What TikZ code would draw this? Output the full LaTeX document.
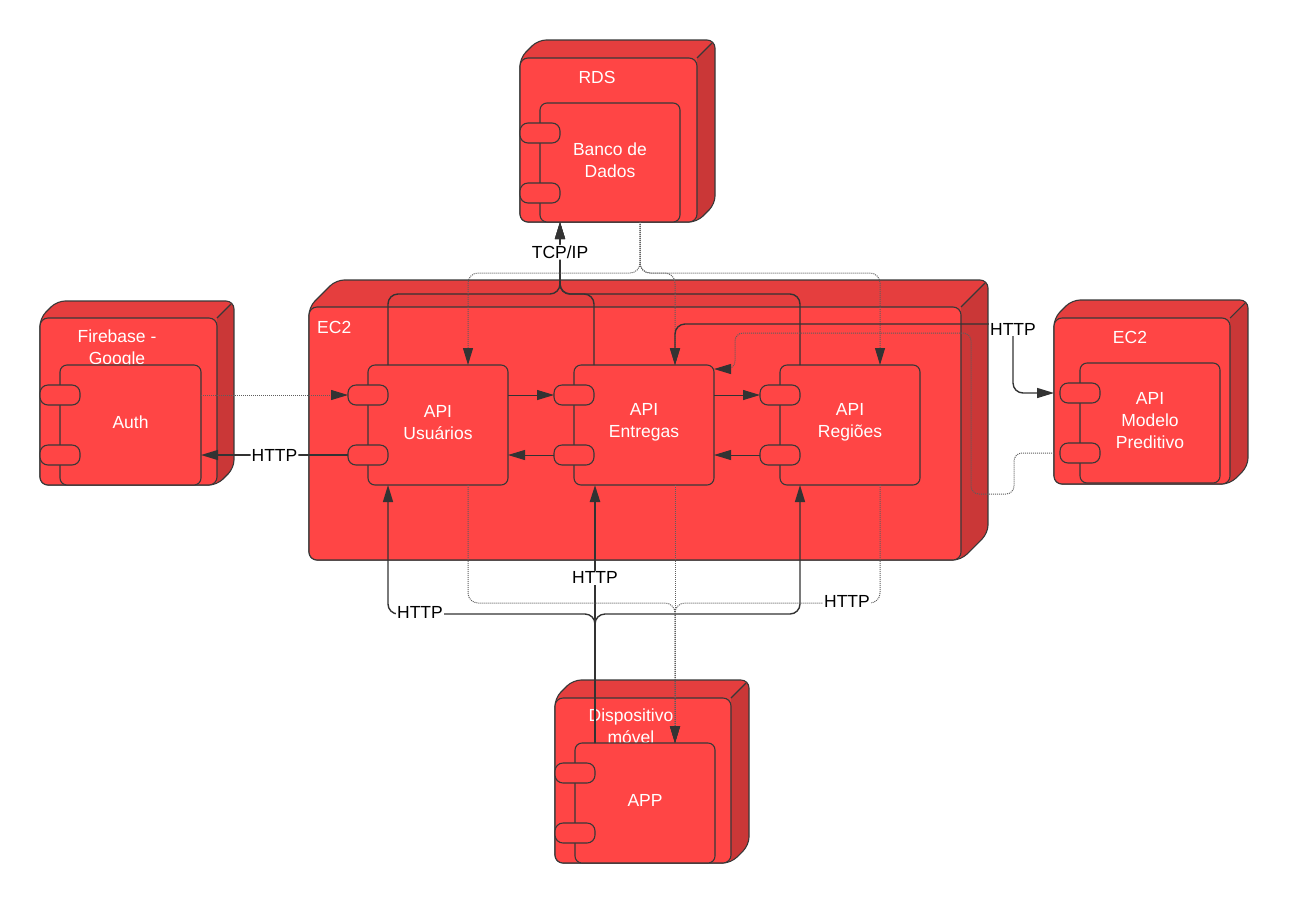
\documentclass[tikz,border=0pt]{standalone}
\usepackage{fontspec}
\setmainfont{Liberation Sans}
\usetikzlibrary{arrows.meta,calc}

\definecolor{frontred}{HTML}{FF4545}
\definecolor{topred}{HTML}{E53E3E}
\definecolor{sidered}{HTML}{CA3737}
\definecolor{bordr}{HTML}{383838}
\definecolor{wire}{HTML}{333333}
\definecolor{dotc}{HTML}{5E5E5E}

\newcommand\txtfont{\fontsize{17.5}{22}\selectfont}

\tikzset{
  outline/.style={draw=bordr, line width=1.1pt},
  front/.style={outline, fill=frontred, rounded corners=8pt, inner sep=0pt, outer sep=0pt},
  comp/.style={outline, fill=frontred, rounded corners=7pt, inner sep=0pt, outer sep=0pt},
  port/.style={outline, fill=frontred, rounded corners=8pt, minimum width=40pt,
               minimum height=20pt, inner sep=0pt, outer sep=0pt},
  ntext/.style={text=white, align=center, font=\txtfont, inner sep=0pt},
  conn/.style={draw=wire, line width=1.4pt, rounded corners=10pt},
  thinconn/.style={draw=wire, line width=1pt},
  dotline/.style={draw=dotc, line width=1pt, dash pattern=on 1pt off 1pt, rounded corners=10pt},
  endarrow/.style={-{Triangle[length=17pt,width=10pt,color=wire]}},
  botharrow/.style={{Triangle[length=17pt,width=10pt,color=wire]}-{Triangle[length=17pt,width=10pt,color=wire]}},
  clabel/.style={fill=white, text=black, font=\txtfont, inner sep=1pt},
}

% 3D deployment node: name, left, top, right of front face, bottom, depth
\newcommand\drawnodebox[6]{%
  \begin{scope}
    \clip[rounded corners=8pt] (#2,#5-20) -- (#2,#3+#6) -- (#2+#6,#3) -- (#4+#6,#3)
      -- (#4+#6,#5-#6) -- (#4,#5) -- (#2,#5) -- cycle;
    \fill[topred] (#2,#3) rectangle (#4+#6,#5);
    \fill[sidered] (#4,#3+#6) -- (#4+#6,#3) -- (#4+#6,#5) -- (#4,#5) -- cycle;
  \end{scope}
  \draw[outline] (#4,#3+#6) -- (#4+#6-3,#3+3);
  \draw[outline, rounded corners=8pt] (#2,#5-20) -- (#2,#3+#6) -- (#2+#6,#3) -- (#4+#6,#3)
      -- (#4+#6,#5-#6) -- (#4,#5) -- (#2,#5) -- cycle;
  \pgfmathsetmacro\bwid{#4-#2}\pgfmathsetmacro\bhgt{#5-#3-#6}
  \node[front, minimum width=\bwid pt, minimum height=\bhgt pt, anchor=north west]
    (#1) at (#2,#3+#6) {};
}

% UML component with two ports: name, left, top, right, bottom, text
\newcommand\drawcomp[6]{%
  \pgfmathsetmacro\cwid{#4-#2}\pgfmathsetmacro\chgt{#5-#3}
  \node[comp, minimum width=\cwid pt, minimum height=\chgt pt, anchor=north west]
    (#1) at (#2,#3) {};
  \node[ntext] (#1-txt) at ($(#1.center)+(0,-2.5)$) {#6};
  \node[port, anchor=north west] (#1-p1) at (#2-20,#3+20) {};
  \node[port, anchor=north west] (#1-p2) at (#2-20,#3+80) {};
}

\begin{document}
\begin{tikzpicture}[x=1pt,y=-1pt]
\useasboundingbox (0,0) rectangle (1289,903);

% deployment nodes
\drawnodebox{rds}{520}{40}{697}{222}{18}
\drawnodebox{ec2a}{309}{280}{961}{560}{27}
\drawnodebox{fireb}{40}{301}{217}{485}{17}
\drawnodebox{ec2b}{1054}{300}{1230}{484}{18}
\drawnodebox{movel}{555}{680}{731}{863}{18}

% node titles
\node[ntext] (rdstxt) at (597,77) {RDS};
\node[ntext, anchor=west] (ec2atxt) at (317,327) {EC2};
\node[ntext] (firetxt) at (117,349) {Firebase -\\Google};
\node[ntext] (ec2btxt) at (1130,337) {EC2};
\node[ntext] (moveltxt) at (631,726) {Dispositivo\\móvel};

% components
\drawcomp{banco}{540}{103}{680}{222}{Banco de\\Dados}
\drawcomp{auth}{60}{365}{201}{485}{Auth}
\drawcomp{usu}{368}{365}{508}{485}{API\\Usuários}
\drawcomp{ent}{574}{365}{714}{485}{API\\Entregas}
\drawcomp{reg}{780}{365}{920}{485}{API\\Regiões}
\drawcomp{modelo}{1080}{363}{1220}{483}{API\\Modelo\\Preditivo}
\drawcomp{app}{575}{743}{715}{863}{APP}

% APIs -> database (TCP/IP)
\coordinate (tcpj) at (560,294);
\coordinate (dbin) at ($(banco.south west)+(20,0)$);
\draw[wire, line width=2.4pt, shorten >=12pt] ($(tcpj)+(0,-9)$) -- (dbin);
\draw[conn, endarrow] ($(usu.north west)+(20,0)$) |- (tcpj) -- (dbin);
\draw[conn, endarrow] ($(ent.north west)+(20,0)$) |- (tcpj) -- (dbin);
\draw[conn, endarrow] ($(reg.north west)+(20,0)$) |- (tcpj) -- node[clabel, pos=0.58] {TCP/IP} (dbin);

% database -> APIs
\coordinate (dbout) at ($(banco.south)+(30,0)$);
\coordinate (dbj) at (640,273);
\draw[dotline, endarrow] (dbout) -- (dbj) -| ($(usu.north)+(30,0)$);
\draw[dotline, endarrow] (dbout) -- (dbj) -| ($(ent.north)+(31,0)$);
\draw[dotline, endarrow] (dbout) -- (dbj) -| ($(reg.north)+(30,0)$);

% authentication
\draw[dotline, endarrow] (usu-p1 -| auth.east) -- (usu-p1.west);
\draw[conn, endarrow] (usu-p2.west) -- node[clabel] {HTTP} (usu-p2 -| auth.east);

% calls between the APIs
\draw[thinconn, endarrow] (usu-p1 -| usu.east) -- (ent-p1.west);
\draw[thinconn, endarrow] (ent-p2.west) -- (ent-p2 -| usu.east);
\draw[thinconn, endarrow] (ent-p1 -| ent.east) -- (reg-p1.west);
\draw[thinconn, endarrow] (reg-p2.west) -- (reg-p2 -| ent.east);

% predictive model
\coordinate (mj) at (1013,324);
\draw[conn, botharrow] ($(ent.north)+(31,0)$) |- (mj) |- (modelo-p1 -| ec2b.west);
\node[clabel] (mjlbl) at ($(mj)+(0,5)$) {HTTP};
\draw[dotline, rounded corners=8pt, endarrow] (modelo-p2 -| ec2b.west) -| (1014,494) -| (971,333)
  -| (735,369) -- ($(ent.north east)+(0,4)$);

% app -> APIs
\coordinate (appj) at (595,614);
\coordinate (appout) at ($(app.north west)+(20,0)$);
\draw[conn, endarrow] (appout) -- (appj) -| ($(usu.south west)+(20,0)$);
\draw[conn, endarrow] (appout) -- (appj) -| ($(reg.south west)+(20,0)$);
\draw[conn, line width=2.4pt, endarrow] (appout) -- node[clabel, pos=0.64] {HTTP} (appout |- ent.south);
\node[clabel] (applbl) at (420,612) {HTTP};

% APIs -> app
\coordinate (dj) at (675,603);
\coordinate (appin) at ($(app.north west)+(100,0)$);
\draw[dotline, endarrow] ($(usu.south)+(30,0)$) |- (dj) -- (appin);
\draw[dotline, endarrow] ($(ent.south)+(31,0)$) -- (appin);
\draw[dotline, endarrow] ($(reg.south)+(30,0)$) |- (dj) -- (appin);
\node[clabel] (reglbl) at (847,601) {HTTP};

\end{tikzpicture}
\end{document}
